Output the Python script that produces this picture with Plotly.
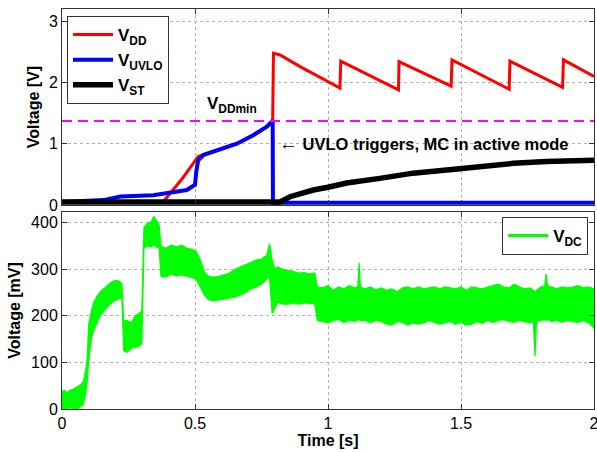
import plotly.graph_objects as go

# ---------------- data ----------------
t_dd = [0, 0.38, 0.45, 0.512, 0.531, 0.594, 0.657, 0.719, 0.77, 0.792, 0.795, 0.82, 0.895,
        1.045, 1.048, 1.265, 1.267, 1.463, 1.466, 1.681, 1.684, 1.882, 1.885, 2.0]
v_dd = [0.05, 0.05, 0.42, 0.79, 0.82, 0.91, 1.0, 1.14, 1.28, 1.375, 2.48, 2.45, 2.26,
        1.91, 2.35, 1.88, 2.34, 1.94, 2.37, 1.89, 2.35, 1.92, 2.37, 2.10]

t_uvlo = [0, 0.155, 0.22, 0.343, 0.469, 0.5, 0.505, 0.512, 0.531, 0.594, 0.657, 0.719,
          0.77, 0.792, 0.793, 2.0]
v_uvlo = [0.05, 0.08, 0.14, 0.16, 0.245, 0.33, 0.55, 0.73, 0.815, 0.90, 1.0, 1.14,
          1.28, 1.375, 0.035, 0.035]

t_st = [0, 0.80, 0.82, 0.857, 0.9, 0.945, 1.0, 1.07, 1.195, 1.32, 1.446, 1.571,
        1.697, 1.82, 1.9, 2.0]
v_st = [0.05, 0.05, 0.05, 0.135, 0.2, 0.245, 0.29, 0.36, 0.435, 0.52, 0.57, 0.625,
        0.68, 0.71, 0.72, 0.73]

v_ddmin = 1.37

t_dc = [0.000, 0.010, 0.020, 0.030, 0.040, 0.050, 0.060, 0.070, 0.080, 0.088, 0.095,
        0.100, 0.110, 0.120, 0.135, 0.150, 0.165, 0.180, 0.195, 0.210, 0.225, 0.232,
        0.245, 0.260, 0.275, 0.290, 0.300, 0.308, 0.320, 0.335, 0.345, 0.355, 0.365,
        0.372, 0.390, 0.410, 0.430, 0.450, 0.470, 0.490, 0.505, 0.520, 0.535, 0.550,
        0.570, 0.590, 0.610, 0.630, 0.650, 0.670, 0.690, 0.710, 0.730, 0.750, 0.770,
        0.780, 0.790, 0.800, 0.810, 0.830, 0.850, 0.870, 0.890, 0.910, 0.930, 0.950,
        0.960, 0.980, 1.000, 1.020, 1.040, 1.060, 1.080, 1.100, 1.112, 1.117, 1.122,
        1.140, 1.160, 1.180, 1.200, 1.220, 1.240, 1.260, 1.280, 1.300, 1.320, 1.340,
        1.360, 1.380, 1.400, 1.420, 1.440, 1.460, 1.480, 1.500, 1.520, 1.540, 1.560,
        1.580, 1.600, 1.620, 1.640, 1.660, 1.680, 1.700, 1.720, 1.740, 1.760, 1.772,
        1.778, 1.784, 1.800, 1.815, 1.820, 1.825, 1.840, 1.860, 1.880, 1.900, 1.920,
        1.940, 1.960, 1.980, 2.000]
dc_hi = [38, 40, 35, 40, 42, 45, 48, 52, 58, 80, 110,
         180, 210, 230, 245, 255, 262, 270, 275, 276, 270, 190,
         190, 185, 200, 205, 210, 390, 398, 402, 413, 405, 395,
         350, 345, 352, 348, 352, 345, 343, 338, 320, 295, 285,
         283, 285, 288, 292, 300, 305, 310, 315, 320, 322, 330,
         355, 320, 300, 305, 300, 298, 295, 292, 293, 290, 292,
         262, 260, 265, 255, 262, 258, 265, 260, 262, 314, 262,
         258, 262, 256, 260, 255, 258, 252, 260, 262, 258, 262,
         258, 260, 262, 258, 262, 260, 258, 262, 255, 262, 260,
         258, 262, 265, 268, 262, 260, 268, 262, 258, 260, 255,
         252, 255, 262, 265, 290, 265, 262, 258, 262, 260, 262,
         265, 260, 262, 258]
dc_lo = [0, 2, 0, 3, 0, 2, 0, 5, 10, 30, 60,
         100, 150, 170, 190, 205, 215, 225, 232, 236, 238, 125,
         122, 130, 132, 135, 140, 345, 350, 348, 352, 348, 345,
         285, 283, 290, 286, 288, 285, 282, 278, 262, 245, 235,
         232, 234, 236, 238, 240, 245, 250, 258, 262, 268, 280,
         285, 205, 215, 230, 225, 225, 228, 225, 228, 227, 225,
         190, 188, 185, 190, 192, 186, 190, 188, 190, 192, 190,
         190, 185, 190, 188, 182, 180, 188, 186, 180, 185, 182,
         185, 190, 186, 182, 185, 188, 182, 186, 180, 182, 188,
         184, 190, 186, 190, 192, 188, 186, 190, 188, 185, 188,
         114, 188, 190, 192, 190, 192, 188, 190, 186, 190, 188,
         186, 190, 185, 174]

x_ticks = [0, 0.5, 1, 1.5, 2]
x_tick_labels = ["0", "0.5", "1", "1.5", "2"]
y1_ticks = [0, 1, 2, 3]
y2_ticks = [0, 100, 200, 300, 400]

# ---------------- styling ----------------
FONT = "Liberation Sans, Arial, Helvetica, sans-serif"
AX = "#333333"
GRID = "#b0b0b0"

fig = go.Figure()

fig.add_trace(go.Scatter(x=t_dd, y=v_dd, mode="lines", name="<b>V<sub>DD</sub></b>",
                         line=dict(color="#ff0000", width=3), xaxis="x", yaxis="y",
                         legend="legend", legendgroup="a"))
fig.add_trace(go.Scatter(x=t_uvlo, y=v_uvlo, mode="lines", name="<b>V<sub>UVLO</sub></b>",
                         line=dict(color="#0000ff", width=4), xaxis="x", yaxis="y",
                         legend="legend", legendgroup="b"))
fig.add_trace(go.Scatter(x=t_st, y=v_st, mode="lines", name="<b>V<sub>ST</sub></b>",
                         line=dict(color="#000000", width=5.5), xaxis="x", yaxis="y",
                         legend="legend", legendgroup="c"))
fig.add_trace(go.Scatter(x=[0, 2], y=[v_ddmin, v_ddmin], mode="lines", showlegend=False,
                         line=dict(color="#ff00ff", width=2, dash="10px,6px"),
                         xaxis="x", yaxis="y"))

# V_DC band (noisy signal envelope)
fig.add_trace(go.Scatter(x=t_dc, y=dc_lo, mode="lines", showlegend=False,
                         line=dict(color="#00ff00", width=1.2), xaxis="x2", yaxis="y2"))
fig.add_trace(go.Scatter(x=t_dc, y=dc_hi, mode="lines", showlegend=False, fill="tonexty",
                         fillcolor="#00ff00",
                         line=dict(color="#00ff00", width=1.2), xaxis="x2", yaxis="y2"))
fig.add_trace(go.Scatter(x=[None], y=[None], mode="lines", name="<b>V<sub>DC</sub></b>",
                         line=dict(color="#00ff00", width=3), xaxis="x2", yaxis="y2",
                         legend="legend2"))

common_x = dict(range=[0, 2], tickvals=x_ticks, ticktext=x_tick_labels, ticks="inside",
                ticklen=5, tickcolor=AX, showline=True, linecolor=AX, linewidth=1,
                mirror="ticks", showgrid=True, gridcolor=GRID, griddash="dot", gridwidth=1,
                zeroline=False, automargin=False, ticklabeloverflow="allow",
                tickfont=dict(family=FONT, size=16, color="black"))
common_y = dict(ticks="inside", ticklen=5, tickcolor=AX, showline=True, linecolor=AX,
                linewidth=1, mirror="ticks", showgrid=True, gridcolor=GRID, griddash="dot",
                gridwidth=1, zeroline=False, automargin=False,
                tickfont=dict(family=FONT, size=16, color="black"))

fig.update_layout(
    width=597, height=452,
    margin=dict(l=62, r=3, t=9, b=43),
    paper_bgcolor="white", plot_bgcolor="white",
    font=dict(family=FONT, size=16, color="black"),
    xaxis=dict(domain=[0, 1], anchor="y", showticklabels=False, **common_x),
    yaxis=dict(domain=[0.51, 1], anchor="x", range=[0, 3.2], tickvals=y1_ticks,
               title=dict(text="<b>Voltage [V]</b>", standoff=5,
                          font=dict(family=FONT, size=16)), **common_y),
    xaxis2=dict(domain=[0, 1], anchor="y2",
                title=dict(text="<b>Time [s]</b>", standoff=3,
                           font=dict(family=FONT, size=16)), **common_x),
    yaxis2=dict(domain=[0, 0.4925], anchor="x2", range=[0, 423], tickvals=y2_ticks,
                title=dict(text="<b>Voltage [mV]</b>", standoff=6,
                           font=dict(family=FONT, size=16)), **common_y),
    legend=dict(x=0.0094, y=0.9825, xanchor="left", yanchor="top", bgcolor="white",
                bordercolor=AX, borderwidth=1, font=dict(family=FONT, size=17),
                traceorder="normal", tracegroupgap=4, itemwidth=40),
    legend2=dict(x=0.989, y=0.48, xanchor="right", yanchor="top", bgcolor="white",
                 bordercolor=AX, borderwidth=1, font=dict(family=FONT, size=17),
                 itemwidth=40),
    showlegend=True,
)

fig.add_annotation(x=0.639, y=1.63, xref="x", yref="y", text="<b>V<sub>DDmin</sub></b>",
                   showarrow=False, font=dict(family=FONT, size=17, color="black"))
fig.add_annotation(x=0.810, y=1.01, xref="x", yref="y", xanchor="left",
                   text="<span style='font-size:19px'>←</span> <b>UVLO triggers, MC in active mode</b>",
                   showarrow=False, font=dict(family=FONT, size=16.5, color="black"))

fig.write_html("out.html", config={"displayModeBar": False},
               post_script="document.body.style.margin='0';document.body.style.overflow='hidden';")
